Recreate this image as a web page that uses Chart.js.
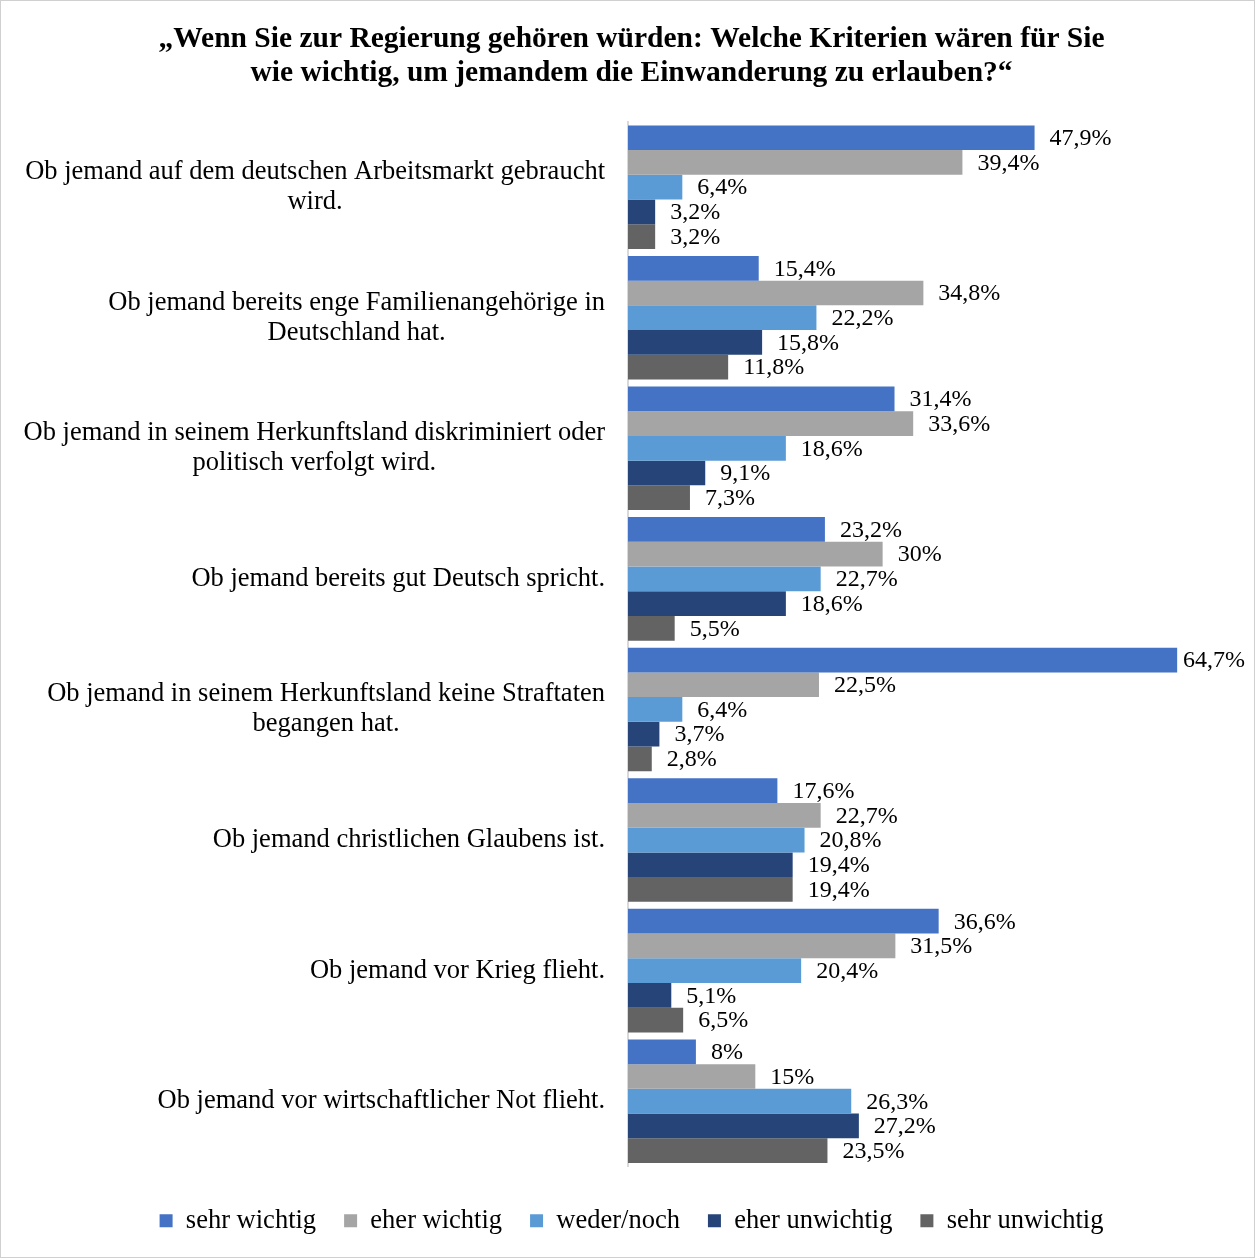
<!DOCTYPE html>
<html><head><meta charset="utf-8">
<script src="https://cdn.jsdelivr.net/npm/chart.js@4"></script>
<style>
html,body{margin:0;padding:0;background:#fff;}
#wrap{width:1255px;height:1258px;box-sizing:border-box;border:1px solid #D0D0D0;position:relative;}
canvas{display:block;}
</style></head><body>
<div id="wrap"><canvas id="c"></canvas></div>
<script>
const categories = [
  ["Ob jemand auf dem deutschen Arbeitsmarkt gebraucht","wird."],
  ["Ob jemand bereits enge Familienangehörige in","Deutschland hat."],
  ["Ob jemand in seinem Herkunftsland diskriminiert oder","politisch verfolgt wird."],
  ["Ob jemand bereits gut Deutsch spricht."],
  ["Ob jemand in seinem Herkunftsland keine Straftaten","begangen hat."],
  ["Ob jemand christlichen Glaubens ist."],
  ["Ob jemand vor Krieg flieht."],
  ["Ob jemand vor wirtschaftlicher Not flieht."]
];
const seriesNames = ["sehr wichtig","eher wichtig","weder/noch","eher unwichtig","sehr unwichtig"];
const sehrWichtig    = [47.9, 15.4, 31.4, 23.2, 64.7, 17.6, 36.6, 8];
const eherWichtig    = [39.4, 34.8, 33.6, 30,   22.5, 22.7, 31.5, 15];
const wederNoch      = [6.4,  22.2, 18.6, 22.7, 6.4,  20.8, 20.4, 26.3];
const eherUnwichtig  = [3.2,  15.8, 9.1,  18.6, 3.7,  19.4, 5.1,  27.2];
const sehrUnwichtig  = [3.2,  11.8, 7.3,  5.5,  2.8,  19.4, 6.5,  23.5];
const colors = ["#4472C4","#A5A5A5","#5B9BD5","#264478","#636363"];
const titleLines = ["„Wenn Sie zur Regierung gehören würden: Welche Kriterien wären für Sie","wie wichtig, um jemandem die Einwanderung zu erlauben?“"];

const FONT = "'Liberation Serif','Times New Roman',serif";
const allData = [sehrWichtig, eherWichtig, wederNoch, eherUnwichtig, sehrUnwichtig];

const fmt = v => String(v).replace('.', ',') + '%';

const valueLabels = {
  id: 'valueLabels',
  afterDatasetsDraw(chart) {
    const ctx = chart.ctx;
    ctx.save();
    ctx.font = "24px " + FONT;
    ctx.fillStyle = "#000";
    ctx.textBaseline = "middle";
    ctx.textAlign = "left";
    chart.data.datasets.forEach((ds, di) => {
      const meta = chart.getDatasetMeta(di);
      meta.data.forEach((bar, i) => {
        const t = fmt(ds.data[i]);
        const w = ctx.measureText(t).width;
        let x = bar.x + 15;
        const maxX = chart.width - 9;
        if (x + w > maxX) x = maxX - w;
        ctx.fillText(t, x, bar.y + 1);
      });
    });
    ctx.restore();
  }
};

const catLabels = {
  id: 'catLabels',
  afterDraw(chart) {
    const ctx = chart.ctx;
    const ys = chart.scales.y;
    ctx.save();
    ctx.font = "26.5px " + FONT;
    ctx.fillStyle = "#000";
    ctx.textBaseline = "middle";
    ctx.textAlign = "center";
    const right = chart.chartArea.left - 23;
    const lh = 30;
    chart.data.labels.forEach((lines, i) => {
      const yc = ys.getPixelForTick(i);
      const bw = Math.max(...lines.map(l => ctx.measureText(l).width));
      const cx = right - bw / 2;
      const y0 = yc - (lines.length - 1) * lh / 2;
      lines.forEach((l, k) => ctx.fillText(l, cx, y0 + k * lh));
    });
    ctx.restore();
  }
};

new Chart(document.getElementById('c'), {
  type: 'bar',
  data: {
    labels: categories,
    datasets: seriesNames.map((n, i) => ({
      label: n,
      data: allData[i],
      backgroundColor: colors[i],
      borderWidth: 0,
      categoryPercentage: 0.946,
      barPercentage: 1.0
    }))
  },
  options: {
    indexAxis: 'y',
    responsive: true,
    maintainAspectRatio: false,
    animation: false,
    layout: { padding: { left: 11, right: 3, top: 0, bottom: 13 } },
    scales: {
      x: {
        min: 0, max: 73.4,
        display: true,
        grid: { display: false },
        border: { display: false },
        ticks: { display: false },
        afterFit: s => { s.height = 13; }
      },
      y: {
        grid: { display: false, drawTicks: false },
        border: { display: true, color: '#D9D9D9', width: 2 },
        ticks: { display: false },
        afterFit: s => { s.width = 616; }
      }
    },
    plugins: {
      title: {
        display: true,
        text: titleLines,
        color: '#000',
        font: { family: FONT, size: 29.5, weight: 'bold', lineHeight: 1.15 },
        padding: { top: 21, bottom: 32 }
      },
      legend: {
        position: 'bottom',
        labels: {
          boxWidth: 13, boxHeight: 13,
          color: '#000',
          font: { family: FONT, size: 26.5 },
          padding: 28
        }
      },
      tooltip: { enabled: false }
    }
  },
  plugins: [valueLabels, catLabels]
});
</script>
</body></html>
